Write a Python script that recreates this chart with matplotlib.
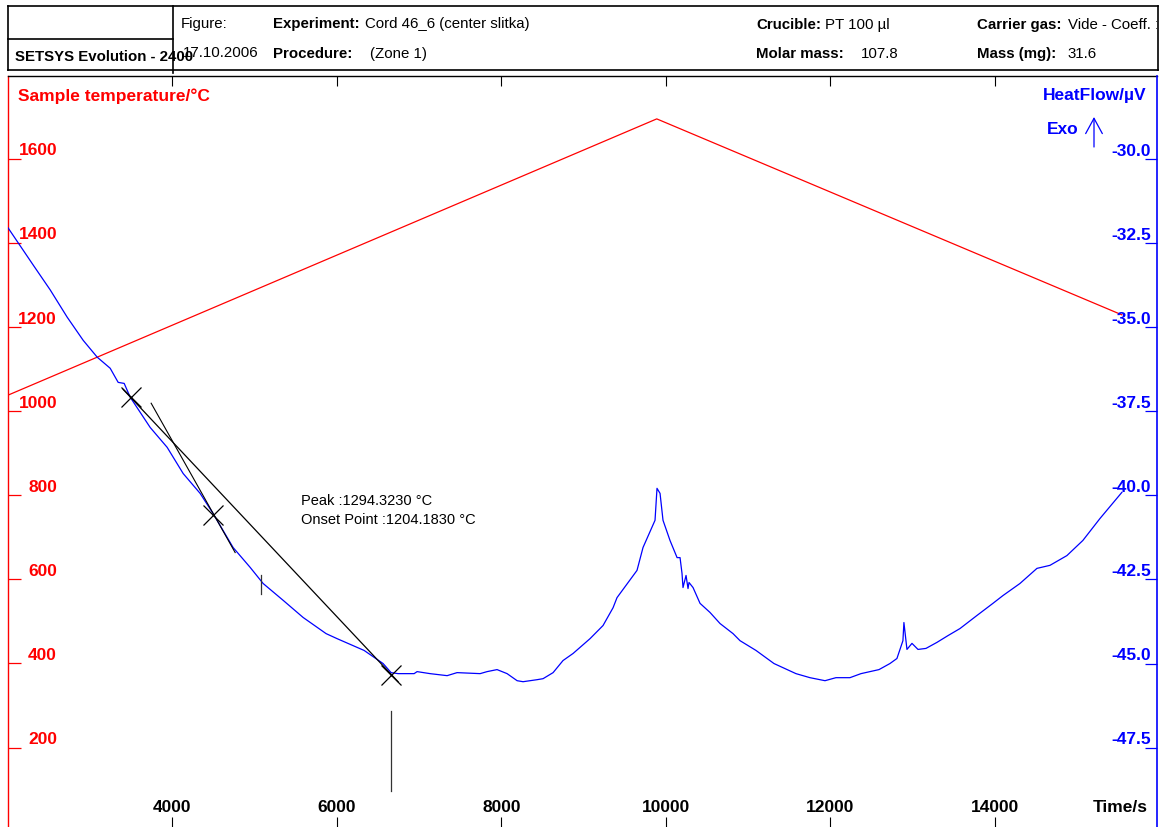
import matplotlib
matplotlib.use("Agg")
import matplotlib.pyplot as plt
import matplotlib.transforms as mtransforms
from matplotlib.lines import Line2D

plt.rcParams['font.family'] = ['Liberation Sans', 'DejaVu Sans']

# ---------------- data ----------------
time_temp = [2005, 9890, 15543]
temp = [1038, 1695, 1229]

time_hf = [2007, 2311, 2518, 2724, 2919, 3089, 3247, 3344, 3417, 3490, 3733, 3939,
           4134, 4340, 4498, 4741, 4948, 5106, 5349, 5592, 5871, 6005, 6333, 6564,
           6661, 6746, 6941, 6977, 7135, 7342, 7463, 7743, 7828, 7949, 8071, 8193,
           8265, 8435, 8508, 8630, 8751, 8873, 9079, 9237, 9359, 9407, 9650, 9723,
           9869, 9893, 9930, 9966, 10051, 10137, 10173, 10197, 10209, 10246, 10270,
           10282, 10331, 10416, 10537, 10659, 10817, 10902, 11096, 11315, 11582,
           11752, 11935, 12068, 12238, 12372, 12591, 12724, 12809, 12882, 12894,
           12931, 12992, 13065, 13162, 13296, 13429, 13575, 13782, 13976, 14097,
           14304, 14511, 14669, 14875, 15069, 15276, 15543]
hf = [-32.05, -33.15, -33.89, -34.70, -35.39, -35.89, -36.22, -36.64, -36.67, -37.08,
      -37.98, -38.57, -39.35, -39.94, -40.54, -41.55, -42.14, -42.62, -43.12, -43.63,
      -44.11, -44.26, -44.61, -45.00, -45.27, -45.30, -45.30, -45.24, -45.30, -45.36,
      -45.27, -45.30, -45.24, -45.18, -45.30, -45.51, -45.54, -45.48, -45.45, -45.27,
      -44.91, -44.70, -44.26, -43.87, -43.34, -43.04, -42.23, -41.55, -40.74, -39.79,
      -39.94, -40.74, -41.34, -41.85, -41.85, -42.32, -42.74, -42.38, -42.77, -42.59,
      -42.74, -43.21, -43.48, -43.81, -44.11, -44.32, -44.61, -45.00, -45.30, -45.42,
      -45.51, -45.42, -45.42, -45.30, -45.18, -45.00, -44.85, -44.32, -43.78, -44.58,
      -44.40, -44.58, -44.55, -44.37, -44.17, -43.96, -43.57, -43.21, -42.98, -42.62,
      -42.17, -42.08, -41.79, -41.34, -40.69, -39.91]

time_ticks = [4000, 6000, 8000, 10000, 12000, 14000]
temp_ticks = [200, 400, 600, 800, 1000, 1200, 1400, 1600]
hf_ticks = [-47.5, -45.0, -42.5, -40.0, -37.5, -35.0, -32.5, -30.0]

# analysis (onset construction)
tangent_long_t = [3405, 6746]
tangent_long_hf = [-36.85, -45.54]
tangent_short_t = [3745, 4766]
tangent_short_hf = [-37.26, -41.70]
cross_t = [3502, 4498, 6661]
cross_hf = [-37.08, -40.57, -45.33]
limit_t = 5081
limit_hf = [-42.38, -42.92]
onset_line_hf = [-46.40, -48.78]
result_lines = ["Peak :1294.3230 °C", "Onset Point :1204.1830 °C"]
result_t = 5567
result_hf = [-40.29, -40.85]

header_instrument = "SETSYS Evolution - 2400"
header_items = [
    ("Figure:", None, 181, 28, False),
    ("17.10.2006", None, 183, 57, False),
    ("Experiment:", "Cord 46_6 (center slitka)", 273, 28, True),
    ("Procedure:", "(Zone 1)", 273, 58, True),
    ("Crucible:", "PT 100 µl", 756, 29, True),
    ("Molar mass:", "107.8", 756, 58, True),
    ("Carrier gas:", "Vide - Coeff. :", 977, 29, True),
    ("Mass (mg):", "31.6", 977, 58, True),
]
header_value_x = {"Experiment:": 365, "Procedure:": 370, "Crucible:": 825,
                  "Molar mass:": 861, "Carrier gas:": 1068, "Mass (mg):": 1067}

RED = '#ff0000'
BLUE = '#0000ff'

W, H = 1166, 827
fig = plt.figure(figsize=(W / 100, H / 100), dpi=100)

def fx(px):
    return px / W

def fy(py):
    return 1 - py / H

ax = fig.add_axes([fx(8), 0, (1157 - 8) / W, (H - 76) / H])
ax2 = ax.twinx()

ax.set_xlim(2005, 15970)
ax.set_ylim(11, 1797)
ax2.set_ylim(-49.86, -27.53)

ax.plot(time_temp, temp, color=RED, lw=0.9)
ax2.plot(time_hf, hf, color=BLUE, lw=0.9)

# onset construction
ax2.plot(tangent_long_t, tangent_long_hf, color='black', lw=0.9)
ax2.plot(tangent_short_t, tangent_short_hf, color='black', lw=0.8)
ax2.plot(cross_t, cross_hf, ls='none', marker='x', ms=15, mew=0.9, color='black')
ax2.plot([limit_t, limit_t], limit_hf, color='#333333', lw=0.9)
ax2.plot([cross_t[2], cross_t[2]], onset_line_hf, color='#333333', lw=0.9)
for s, v in zip(result_lines, result_hf):
    ax2.text(result_t, v, s, fontsize=10.5, color='black', ha='left', va='baseline')

# spines
for s in ['right', 'bottom']:
    ax.spines[s].set_visible(False)
ax.spines['left'].set_color(RED)
ax.spines['left'].set_linewidth(1.0)
ax.spines['top'].set_color('black')
ax.spines['top'].set_linewidth(1.0)
for s in ['left', 'top', 'bottom']:
    ax2.spines[s].set_visible(False)
ax2.spines['right'].set_color(BLUE)
ax2.spines['right'].set_linewidth(1.2)

# ticks
ax.set_xticks(time_ticks)
ax.tick_params(axis='x', direction='in', top=True, bottom=True, labelbottom=False,
               labeltop=False, length=7, width=0.8, color='black')
ax.set_yticks(temp_ticks)
ax.tick_params(axis='y', direction='in', left=True, right=False, labelleft=False,
               length=9.5, width=0.9, color=RED)
ax2.set_yticks(hf_ticks)
ax2.tick_params(axis='y', direction='in', right=True, left=False, labelright=False,
                length=8.5, width=0.9, color=BLUE)

tick_font = dict(fontsize=12.5, fontweight='bold')
xt = mtransforms.offset_copy(ax.get_xaxis_transform(), fig=fig, x=0, y=15, units='dots')
for t in time_ticks:
    ax.text(t, 0, f"{t}", transform=xt, ha='center', va='baseline', color='black', **tick_font)
ax.text(1, 0, "Time/s", transform=mtransforms.offset_copy(ax.transAxes, fig=fig, x=-9, y=15, units='dots'),
        ha='right', va='baseline', color='black', **tick_font)

lt = mtransforms.offset_copy(ax.get_yaxis_transform(), fig=fig, x=49, y=3.5, units='dots')
for v in temp_ticks:
    ax.text(0, v, f"{v}", transform=lt, ha='right', va='baseline', color=RED, **tick_font)
rt = mtransforms.offset_copy(ax2.get_yaxis_transform(), fig=fig, x=-6, y=3.5, units='dots')
for v in hf_ticks:
    ax2.text(1, v, f"{v:.1f}", transform=rt, ha='right', va='baseline', color=BLUE, **tick_font)

# axis titles
fig.text(fx(18), fy(101), "Sample temperature/°C", color=RED, ha='left', va='baseline',
         fontsize=12.5, fontweight='bold')
fig.text(fx(1147), fy(100), "HeatFlow/µV", color=BLUE, ha='right', va='baseline',
         fontsize=12.5, fontweight='bold')
fig.text(fx(1078), fy(134), "Exo", color=BLUE, ha='right', va='baseline',
         fontsize=12.5, fontweight='bold')
ax.annotate('', xy=(1094, H - 117), xytext=(1094, H - 147), xycoords='figure pixels',
            textcoords='figure pixels',
            arrowprops=dict(arrowstyle='->,head_length=1.1,head_width=0.6', color=BLUE,
                            lw=0.9, mutation_scale=10, shrinkA=0, shrinkB=0))

# header box
def hline(x0, x1, y, lw=1.2):
    fig.add_artist(Line2D([fx(x0), fx(x1)], [fy(y), fy(y)], transform=fig.transFigure,
                          color='black', lw=lw))

def vline(x, y0, y1, lw=1.2):
    fig.add_artist(Line2D([fx(x), fx(x)], [fy(y0), fy(y1)], transform=fig.transFigure,
                          color='black', lw=lw))

hline(8, 1158, 6)
hline(8, 1158, 70)
hline(8, 173, 39)
vline(8, 6, 70)
vline(1158, 6, 70)
vline(173, 6, 73)

hfont = 10.8
fig.text(fx(15), fy(61), header_instrument, ha='left', va='baseline', fontsize=hfont,
         fontweight='bold', color='black')
clip = mtransforms.TransformedBbox(mtransforms.Bbox([[0, 0], [fx(1157), 1]]), fig.transFigure)
for label, value, x, y, bold in header_items:
    fig.text(fx(x), fy(y), label, ha='left', va='baseline', fontsize=hfont,
             fontweight='bold' if bold else 'normal', color='black')
    if value is not None:
        t = fig.text(fx(header_value_x[label]), fy(y), value, ha='left', va='baseline',
                     fontsize=hfont, color='black')
        t.set_clip_box(clip)
        t.set_clip_on(True)

fig.savefig("out.png", dpi=100)
